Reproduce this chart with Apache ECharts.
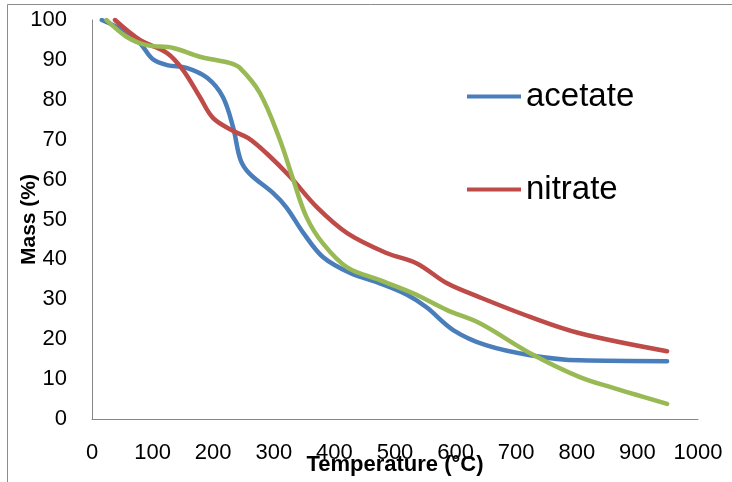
<!DOCTYPE html>
<html lang="en">
<head>
    <meta charset="UTF-8">
    <title>Mass vs Temperature</title>
    <script src="https://cdn.jsdelivr.net/npm/echarts@6/dist/echarts.min.js"></script>
    <style>
        html, body { margin: 0; padding: 0; background: #fff; }
        #main { width: 732px; height: 482px; }
    </style>
</head>
<body>
<div id="main"></div>
<script>
    // values: [temperature, mass %]
    var acetate = [
        [16, 100], [50, 97.5], [80, 94], [100, 90.2], [124, 88.7], [156, 88], [190, 85.5],
        [216, 80.7], [233, 73], [245, 65], [260, 61.5], [299, 56.6], [321, 53], [349, 46.6],
        [381, 40.6], [426, 36.6], [475, 34], [519, 31.2], [552, 28], [596, 22.3], [650, 18.5],
        [723, 16], [805, 14.7], [949, 14.5]
    ];
    var nitrate = [
        [38, 100], [79, 95], [124, 91.7], [150, 87.5], [178, 80.7], [200, 75.4], [233, 72.2],
        [258, 70.4], [288, 66.6], [327, 60.7], [371, 53.1], [421, 46.6], [486, 41.6], [536, 39],
        [586, 34], [640, 30.5], [723, 25.6], [805, 21.5], [949, 17]
    ];
    var third = [
        [24, 100], [57, 95.8], [90, 93.7], [134, 93], [178, 90.8], [228, 89.2], [244, 88],
        [277, 81.7], [310, 70], [332, 60], [354, 50.6], [381, 44], [421, 38], [475, 34.8],
        [530, 31.5], [586, 27.3], [640, 24], [723, 16.5], [805, 10.5], [860, 7.8], [949, 3.8]
    ];
    var legendNames = ['acetate', 'nitrate'];

    var myChart = echarts.init(document.getElementById('main'));
    var axisColor = '#868686';
    var font = 'Liberation Sans';

    function lineSeries(name, data, color) {
        return {
            name: name,
            type: 'line',
            data: data,
            smooth: 0.35,
            showSymbol: false,
            symbol: 'none',
            lineStyle: { width: 4.5, color: color, cap: 'round' },
            itemStyle: { color: color }
        };
    }

    var option = {
        animation: false,
        backgroundColor: '#fff',
        graphic: [{
            type: 'rect',
            shape: { x: 7.5, y: 4.5, width: 800, height: 600 },
            style: { fill: 'none', stroke: '#8c8c8c', lineWidth: 1 }
        }],
        grid: { left: 92, right: 34, top: 20, bottom: 63, outerBoundsMode: 'none', containLabel: false },
        legend: {
            data: legendNames,
            orient: 'vertical',
            left: 462,
            top: 75,
            icon: 'rect',
            itemWidth: 54,
            itemHeight: 4,
            itemGap: 60,
            itemTextGap: 4,
            textStyle: { fontFamily: font, fontSize: 33, color: '#000', lineHeight: 33 }
        },
        xAxis: {
            type: 'value',
            min: 0,
            max: 1000,
            interval: 100,
            name: 'Temperature (°C)',
            nameLocation: 'middle',
            nameGap: 35,
            nameMoveOverlap: false,
            nameTextStyle: { fontFamily: font, fontSize: 22, fontWeight: 'bold', color: '#000' },
            axisLine: { show: true, lineStyle: { color: axisColor, width: 1 } },
            axisTick: { show: false },
            splitLine: { show: false },
            axisLabel: {
                fontFamily: font, fontSize: 22, color: '#000', margin: 23,
                formatter: function (v) { return String(v); }
            }
        },
        yAxis: {
            type: 'value',
            min: 0,
            max: 100,
            interval: 10,
            name: 'Mass (%)',
            nameLocation: 'middle',
            nameGap: 52,
            nameMoveOverlap: false,
            nameTextStyle: { fontFamily: font, fontSize: 21, fontWeight: 'bold', color: '#000' },
            axisLine: { show: true, lineStyle: { color: axisColor, width: 1 } },
            axisTick: { show: false },
            splitLine: { show: false },
            axisLabel: { fontFamily: font, fontSize: 22, color: '#000', margin: 25 }
        },
        series: [
            lineSeries('acetate', acetate, '#4A7EBB'),
            lineSeries('nitrate', nitrate, '#BE4B48'),
            lineSeries('third', third, '#98B954')
        ]
    };
    myChart.setOption(option);
</script>
</body>
</html>
